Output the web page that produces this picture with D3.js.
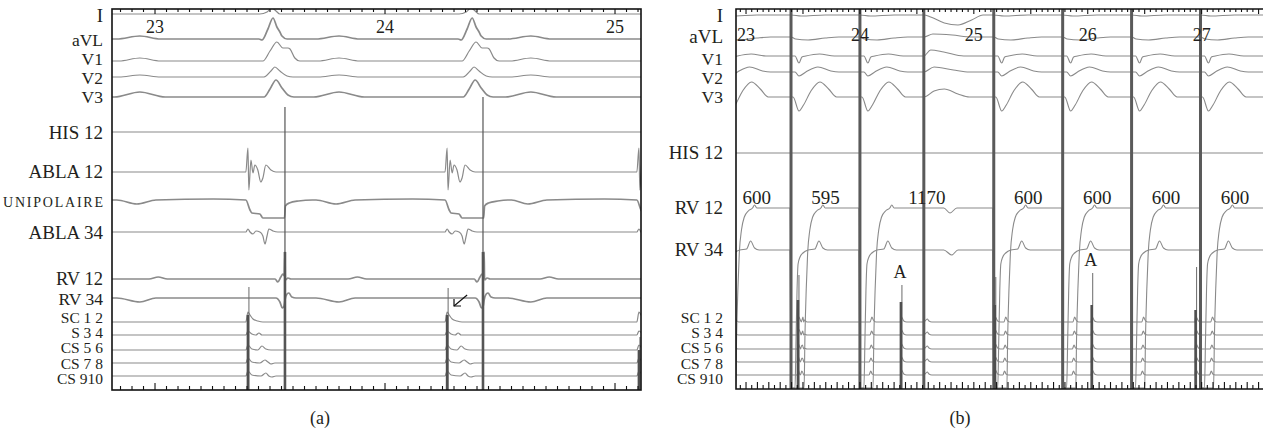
<!DOCTYPE html>
<html>
<head>
<meta charset="utf-8">
<script src="https://cdn.jsdelivr.net/npm/d3@7"></script>
<style>
body { margin: 0; background: #fff; }
text { font-family: "Liberation Serif", "Times New Roman", serif; fill: #231f20; }
</style>
</head>
<body>
<script>
var width = 1263;
var height = 431;

// ================= DATA =================
// levels are in trace units (0 = top of the recording frame)

//---- panel (a) ----
var chanA  = ["I", "aVL", "V1", "V2", "V3", "HIS 12", "ABLA 12", "UNIPOLAIRE", "ABLA 34",
              "RV 12", "RV 34", "SC 1 2", "S 3 4", "CS 5 6", "CS 7 8", "CS 910"];
var baseA  = [5, 30, 52, 68, 88, 123, 163, 191, 223, 270, 289, 313, 326, 341, 354, 367];
var labelA = [7, 31, 50, 69, 88, 124, 163, 193, 224, 270, 290, 309, 324, 339, 355, 370];

var beatNumA  = ["23", "24", "25"];
var beatTimeA = [0, 1000, 2000];

var csPaceA = [404, 1270, 2104];      // ms, coronary sinus / ablation stimulus
var csTopA  = [278, 279, 328];
var csCoreA = [306, 306, 341];
var rvPaceA = [565, 1426];            // ms, RV stimulus
var rvTopA  = [98, 88];
var rvCoreA = [243, 243];
var arrowA  = [[1357, 286], [1300, 297]];

// waveforms (ms from CS stimulus, amplitude)
var a_I      = [[52,0],[83,2],[104,6],[122,3],[139,0]];
var a_aVL    = [[-570,0],[-470,3],[-380,0],[48,0],[61,-1],[87,10],[109,21],[126,12],[139,7],[148,3],[170,0]];
var a_V1     = [[-560,0],[-470,3],[-380,0],[65,0],[96,10],[126,19],[152,13],[174,13],[183,12],[204,3],[226,0]];
var a_V2     = [[-560,0],[-470,2],[-380,0],[70,0],[100,6],[117,10],[139,6],[170,1],[196,0]];
var a_V3     = [[-580,0],[-470,5],[-360,0],[70,0],[96,8],[122,17],[148,9],[174,2],[200,0]];
var a_HIS    = [];
var a_ABLA12 = [[-9,0],[0,24],[4,-18],[13,12],[22,-1],[30,7],[43,2],[56,-10],[65,-6],[78,7],[100,2],[122,0]];
var a_UNI    = [[-570,0],[-483,-4],[-400,0],[-150,1],[-9,0],[9,-10],[17,-13],[52,-14],[65,-18],[159,-18],[163,-6],[180,-3],[220,-1],[280,0]];
var a_ABLA34 = [[-9,0],[0,3],[9,0],[22,-2],[35,1],[52,0],[65,-4],[74,-12],[83,-4],[91,3],[109,1],[130,0]];
var a_RV12   = [[-430,0],[-390,2],[-350,0],[118,0],[130,-3],[143,2],[152,5],[158,3],[161,27],[163,-1],[174,1],[187,0]];
var a_RV34   = [[-570,0],[-470,-4],[-400,0],[122,0],[139,-4],[150,-10],[157,-8],[161,-2],[170,4],[178,5],[191,1],[209,0]];
var a_CS12   = [[-9,0],[0,10],[9,7],[22,3],[43,1],[65,0]];
var a_CS34   = [[-9,0],[0,4],[17,1],[35,0],[48,2],[61,0]];
var a_CS56   = [[-9,0],[0,5],[17,1],[43,0],[61,4],[78,1],[100,0]];
var a_CS78   = [[-9,0],[0,5],[17,1],[52,0],[74,3],[87,1],[100,-1],[117,0]];
var a_CS910  = [[-9,0],[0,5],[17,1],[57,0],[78,3],[91,0],[104,-1],[122,0]];

//---- panel (b) ----
var chanB  = ["I", "aVL", "V1", "V2", "V3", "HIS 12", "RV 12", "RV 34",
              "SC 1 2", "S 3 4", "CS 5 6", "CS 7 8", "CS 910"];
var baseB  = [6, 28, 47, 63, 88, 144, 199, 241, 313, 326, 340, 353, 366];
var labelB = [7, 28, 50, 69, 88, 144, 199, 241, 309, 324, 339, 355, 370];

var beatNumB  = ["23", "24", "25", "26", "27"];
var beatTimeB = [0, 1000, 2000, 3000, 4000];

var rvPaceB     = [-205, 395, 1000, 2175, 2780, 3385, 3990, 4595];
var intervalB   = ["600", "595", "1170", "600", "600", "600", "600"];
var extraB      = [1561];
var csPaceB     = [456, 2184, 3947];
var csTopB      = [266, 268, 258];
var csCoreB     = [291, 296, 301];
var atrialB     = [1360, 3035];
var atrialTopB  = [276, 264];
var atrialCoreB = [293, 296];

// waveforms (ms from RV stimulus / extra beat / CS spike)
var b_I_p    = [[0,0],[90,-1],[300,0]];
var b_I_x    = [[0,0],[60,-2],[180,-8],[300,-10],[420,-5],[520,0]];
var b_aVL_p  = [[0,0],[40,-2],[150,-3],[300,-1],[420,0]];
var b_aVL_x  = [[0,0],[80,3],[250,2],[420,0]];
var b_V1_p   = [[35,0],[70,-7],[96,-1],[130,0],[250,2],[380,0]];
var b_V1_x   = [[0,0],[60,6],[175,4],[350,0]];
var b_V2_p   = [[35,0],[70,-4],[130,0],[236,5],[350,1],[420,0]];
var b_V2_x   = [[0,0],[90,5],[260,2],[400,0]];
var b_V3_p   = [[18,0],[70,-14],[110,-8],[175,6],[254,15],[330,8],[400,0]];
var b_V3_x   = [[0,0],[90,6],[180,8],[300,3],[400,0]];
var b_HIS    = [];
var b_RV12_p = [[-9,0],[0,-180],[115,-180],[122,-130],[134,-80],[146,-45],[165,-22],[190,-9],[225,-3],[262,0],[280,3],[300,0]];
var b_RV12_x = [[0,0],[175,0],[230,-5],[290,0]];
var b_RV34_p = [[-9,0],[0,-138],[35,-138],[44,-90],[53,-40],[62,-14],[79,-7],[105,-3],[150,0],[210,1],[245,9],[280,2],[320,0]];
var b_RV34_x = [[0,0],[175,0],[245,-5],[300,0]];
var b_CS12_p  = [[90,0],[105,5],[118,2],[140,0]];
var b_CS34_p  = [[88,0],[103,4],[116,1],[140,0]];
var b_CS56_p  = [[85,0],[100,4],[113,1],[140,0]];
var b_CS78_p  = [[82,0],[97,4],[110,1],[135,0]];
var b_CS910_p = [[80,0],[95,4],[108,1],[130,0]];
var b_CS_x    = [[0,0],[30,3],[45,1],[70,0]];
var b_CS_c    = [[-5,0],[0,6],[25,1],[50,0]];

// ================= DRAWING =================
var svg = d3.select("body").append("svg")
            .attr("width", width)
            .attr("height", height);

var xA = d3.scaleLinear().domain([-187, 2113]).range([112, 641]);
var yA = d3.scaleLinear().domain([0, 381]).range([9, 390]);
var xB = d3.scaleLinear().domain([-88, 4530]).range([736, 1262]);
var yB = d3.scaleLinear().domain([0, 380]).range([9, 389]);

var defs = svg.append("defs");
defs.append("clipPath").attr("id", "clipA").append("rect")
    .attr("x", 112).attr("y", 9).attr("width", 529).attr("height", 381);
defs.append("clipPath").attr("id", "clipB").append("rect")
    .attr("x", 736).attr("y", 9).attr("width", 527).attr("height", 380);

//merge the templates of one channel into one sorted list of points
function buildPoints(parts, t0, t1) {
    var pts = [[t0 - 2000, 0], [t1 + 2000, 0]];
    parts.forEach(function(p) {
        p[0].forEach(function(ev) {
            p[1].forEach(function(d) { pts.push([ev + d[0], d[1]]); });
        });
    });
    pts.sort(function(a, b) { return a[0] - b[0]; });
    for (var i = 1; i < pts.length; i++) {
        if (pts[i][0] <= pts[i - 1][0]) pts[i][0] = pts[i - 1][0] + 0.01;
    }
    return pts;
}

function drawTraces(g, x, y, bases, parts, widths) {
    var dom = x.domain();
    bases.forEach(function(base, i) {
        var line = d3.line()
            .x(function(d) { return x(d[0]); })
            .y(function(d) { return y(base - d[1]); })
            .curve(d3.curveMonotoneX);
        g.append("path")
            .attr("d", line(buildPoints(parts[i], dom[0], dom[1])))
            .attr("fill", "none")
            .attr("stroke", "#8a8a8a")
            .attr("stroke-width", widths[i]);
    });
}

//stimulus artefacts: thin whisker + dark core, both from the bottom
function drawSpikes(g, x, y, times, tops, cores, bottom) {
    times.forEach(function(t, i) {
        g.append("line")
            .attr("x1", x(t) + 1).attr("x2", x(t) + 1)
            .attr("y1", y(tops[i])).attr("y2", y(bottom))
            .attr("stroke", "#6a6a6a").attr("stroke-width", 1);
        g.append("line")
            .attr("x1", x(t)).attr("x2", x(t))
            .attr("y1", y(cores[i])).attr("y2", y(bottom))
            .attr("stroke", "#4f4f4f").attr("stroke-width", 2.6);
    });
}

function drawTicks(g, x, yTop, yBot, t0, t1, longEvery, topLong) {
    var ticks = d3.range(Math.ceil(t0 / 50) * 50, t1, 50);
    ticks.forEach(function(t) {
        var isLong = (Math.round(t) % longEvery === 0);
        g.append("line")
            .attr("x1", x(t)).attr("x2", x(t))
            .attr("y1", yTop).attr("y2", yTop + ((Math.round(t) % topLong === 0) ? 5 : 3))
            .attr("stroke", "#111").attr("stroke-width", 1.1);
        g.append("line")
            .attr("x1", x(t)).attr("x2", x(t))
            .attr("y1", yBot).attr("y2", yBot - (isLong ? 7 : 4))
            .attr("stroke", "#111").attr("stroke-width", 1.1);
    });
}

//channel names; a name squeezed between close neighbours gets a smaller size
function drawLabels(g, xr, y, names, levels, bigSize, smallFrom) {
    names.forEach(function(n, i) {
        var gapUp = i > 0 ? levels[i] - levels[i - 1] : 99;
        var gapDn = i < levels.length - 1 ? levels[i + 1] - levels[i] : 99;
        var size = i >= smallFrom ? 15.5 : Math.min(bigSize, Math.min(gapUp, gapDn) - 1.5);
        var t = g.append("text")
            .attr("x", xr)
            .attr("y", y(levels[i]))
            .attr("dy", "0.34em")
            .attr("text-anchor", "end")
            .style("font-size", size + "px")
            .text(n);
        if (n === "UNIPOLAIRE") {
            t.style("font-size", "14px")
             .attr("dy", "0.36em")
             .attr("textLength", 100)
             .attr("lengthAdjust", "spacing");
        }
    });
}

////////////////////// PANEL A //////////////////////
var gA = svg.append("g");
var trA = gA.append("g").attr("clip-path", "url(#clipA)");

var tmplA = [a_I, a_aVL, a_V1, a_V2, a_V3, a_HIS, a_ABLA12, a_UNI, a_ABLA34,
             a_RV12, a_RV34, a_CS12, a_CS34, a_CS56, a_CS78, a_CS910];
var partsA = tmplA.map(function(tm) { return [[csPaceA, tm]]; });
var thickA = ["aVL", "UNIPOLAIRE", "RV 12", "RV 34", "V3"];
var widthsA = chanA.map(function(c) { return thickA.indexOf(c) >= 0 ? 1.7 : 1.2; });

drawTraces(trA, xA, yA, baseA, partsA, widthsA);

//RV stimulus spikes
rvPaceA.forEach(function(t, i) {
    trA.append("line")
        .attr("x1", xA(t)).attr("x2", xA(t))
        .attr("y1", yA(rvTopA[i])).attr("y2", yA(381))
        .attr("stroke", "#555").attr("stroke-width", 1.2);
    trA.append("line")
        .attr("x1", xA(t)).attr("x2", xA(t))
        .attr("y1", yA(rvCoreA[i])).attr("y2", yA(381))
        .attr("stroke", "#555").attr("stroke-width", 2.6);
});
drawSpikes(trA, xA, yA, csPaceA, csTopA, csCoreA, 381);

//arrow
var tip = [xA(arrowA[1][0]), yA(arrowA[1][1])];
gA.append("line")
    .attr("x1", xA(arrowA[0][0])).attr("y1", yA(arrowA[0][1]))
    .attr("x2", tip[0]).attr("y2", tip[1])
    .attr("stroke", "#111").attr("stroke-width", 1.2);
gA.append("path")
    .attr("d", "M" + tip[0] + "," + (tip[1] - 7) + "L" + tip[0] + "," + tip[1] + "L" + (tip[0] + 7) + "," + tip[1])
    .attr("fill", "none").attr("stroke", "#111").attr("stroke-width", 1.2);

//beat numbers
beatNumA.forEach(function(n, i) {
    gA.append("text")
        .attr("x", xA(beatTimeA[i])).attr("y", yA(18)).attr("dy", "0.34em")
        .attr("text-anchor", "middle").style("font-size", "18px").text(n);
});

//frame and ticks
gA.append("rect")
    .attr("x", 112).attr("y", 9).attr("width", 529).attr("height", 381)
    .attr("fill", "none").attr("stroke", "#111").attr("stroke-width", 1.6);
drawTicks(gA, xA, 9, 390, -187, 2113, 1000, 1000);

drawLabels(gA, 103, yA, chanA, labelA, 19, 11);

gA.append("text").attr("x", 320).attr("y", 424)
    .attr("text-anchor", "middle").style("font-size", "18px").text("(a)");

////////////////////// PANEL B //////////////////////
var gB = svg.append("g");
var trB = gB.append("g").attr("clip-path", "url(#clipB)");

var csSpikesB = csPaceB.concat(atrialB);
var partsB = [
    [[rvPaceB, b_I_p], [extraB, b_I_x]],
    [[rvPaceB, b_aVL_p], [extraB, b_aVL_x]],
    [[rvPaceB, b_V1_p], [extraB, b_V1_x]],
    [[rvPaceB, b_V2_p], [extraB, b_V2_x]],
    [[rvPaceB, b_V3_p], [extraB, b_V3_x]],
    [[rvPaceB, b_HIS]],
    [[rvPaceB, b_RV12_p], [extraB, b_RV12_x]],
    [[rvPaceB, b_RV34_p], [extraB, b_RV34_x]],
    [[rvPaceB, b_CS12_p], [extraB, b_CS_x], [csSpikesB, b_CS_c]],
    [[rvPaceB, b_CS34_p], [extraB, b_CS_x], [csSpikesB, b_CS_c]],
    [[rvPaceB, b_CS56_p], [extraB, b_CS_x], [csSpikesB, b_CS_c]],
    [[rvPaceB, b_CS78_p], [extraB, b_CS_x], [csSpikesB, b_CS_c]],
    [[rvPaceB, b_CS910_p], [extraB, b_CS_x], [csSpikesB, b_CS_c]]
];
drawTraces(trB, xB, yB, baseB, partsB, baseB.map(function() { return 1.1; }));

//full-height stimulus artefacts
rvPaceB.concat(extraB).forEach(function(t) {
    trB.append("line")
        .attr("x1", xB(t)).attr("x2", xB(t))
        .attr("y1", yB(0)).attr("y2", yB(380))
        .attr("stroke", "#5a5a5a").attr("stroke-width", 3);
});
drawSpikes(trB, xB, yB, csPaceB, csTopB, csCoreB, 380);
drawSpikes(trB, xB, yB, atrialB, atrialTopB, atrialCoreB, 380);

//"A" markers
atrialB.forEach(function(t, i) {
    gB.append("text")
        .attr("x", xB(t) - 1).attr("y", yB(atrialTopB[i] - 13)).attr("dy", "0.34em")
        .attr("text-anchor", "middle").style("font-size", "18px").text("A");
});

//RV cycle lengths, centred on each interval
intervalB.forEach(function(v, i) {
    var mid = (rvPaceB[i] + rvPaceB[i + 1]) / 2;
    gB.append("text")
        .attr("x", xB(mid)).attr("y", yB(189)).attr("dy", "0.34em")
        .attr("text-anchor", "middle").style("font-size", "19px").text(v);
});

beatNumB.forEach(function(n, i) {
    gB.append("text")
        .attr("x", xB(beatTimeB[i])).attr("y", yB(26)).attr("dy", "0.34em")
        .attr("text-anchor", "middle").style("font-size", "18px").text(n);
});

//frame (open on the right) and ticks
gB.append("path")
    .attr("d", "M1263,9H736V389H1263")
    .attr("fill", "none").attr("stroke", "#111").attr("stroke-width", 1.6);
drawTicks(gB, xB, 9, 389, -88, 4530, 100, 500);

drawLabels(gB, 723, yB, chanB, labelB, 19, 8);

gB.append("text").attr("x", 960).attr("y", 424)
    .attr("text-anchor", "middle").style("font-size", "18px").text("(b)");
</script>
</body>
</html>
